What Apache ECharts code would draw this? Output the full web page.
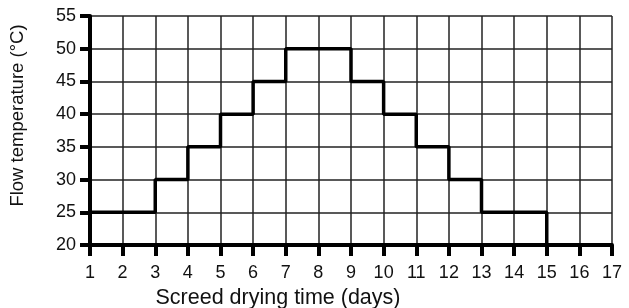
<!DOCTYPE html>
<html>
<head>
<meta charset="utf-8">
<script src="https://cdn.jsdelivr.net/npm/echarts@6/dist/echarts.min.js"></script>
<style>
  html, body { margin: 0; padding: 0; background: #fff; }
  #chart { width: 629px; height: 308px; }
</style>
</head>
<body>
<div id="chart"></div>
<script>
// step points: value holds until the next day in the list
const days = [1, 3, 4, 5, 6, 7, 9, 10, 11, 12, 13, 15]
const temps = [25, 30, 35, 40, 45, 50, 45, 40, 35, 30, 25, 20]

const xMin = 1, xMax = 17
const yMin = 20, yMax = 55, yStep = 5

let chart = echarts.init(document.getElementById('chart'))

let option = {
  animation: false,
  textStyle: { fontFamily: 'Liberation Sans, Arial, sans-serif' },
  grid: { left: 90, right: 17, top: 16, bottom: 63, outerBoundsMode: 'none', containLabel: false },
  xAxis: {
    type: 'value',
    min: xMin,
    max: xMax,
    interval: 1,
    name: 'Screed drying time (days)',
    nameLocation: 'middle',
    nameGap: 38,
    nameTextStyle: { fontSize: 21.5, color: '#111', padding: [0, 146, 0, 0] },
    axisLine: { show: true, onZero: false, lineStyle: { color: '#000', width: 4 } },
    axisTick: { show: true, inside: false, length: 11, lineStyle: { color: '#000', width: 4 } },
    axisLabel: { fontSize: 18, color: '#111', margin: 19 },
    splitLine: { show: true, lineStyle: { color: '#222', width: 1.5 } }
  },
  yAxis: {
    type: 'value',
    min: yMin,
    max: yMax,
    interval: yStep,
    name: 'Flow temperature (°C)',
    nameLocation: 'middle',
    nameGap: 63,
    nameTextStyle: { fontSize: 18.5, color: '#111', padding: [0, 0, 0, 30] },
    axisLine: { show: true, onZero: false, lineStyle: { color: '#000', width: 4 } },
    axisTick: { show: true, inside: false, length: 10, lineStyle: { color: '#000', width: 4 } },
    axisLabel: { fontSize: 18, color: '#111', margin: 14 },
    splitLine: { show: true, lineStyle: { color: '#222', width: 1.5 } }
  },
  series: [
    {
      type: 'line',
      step: 'end',
      data: days.map((d, i) => [d, temps[i]]),
      showSymbol: false,
      lineStyle: { color: '#000', width: 3.5 },
      z: 5
    }
  ]
}
chart.setOption(option)
</script>
</body>
</html>
